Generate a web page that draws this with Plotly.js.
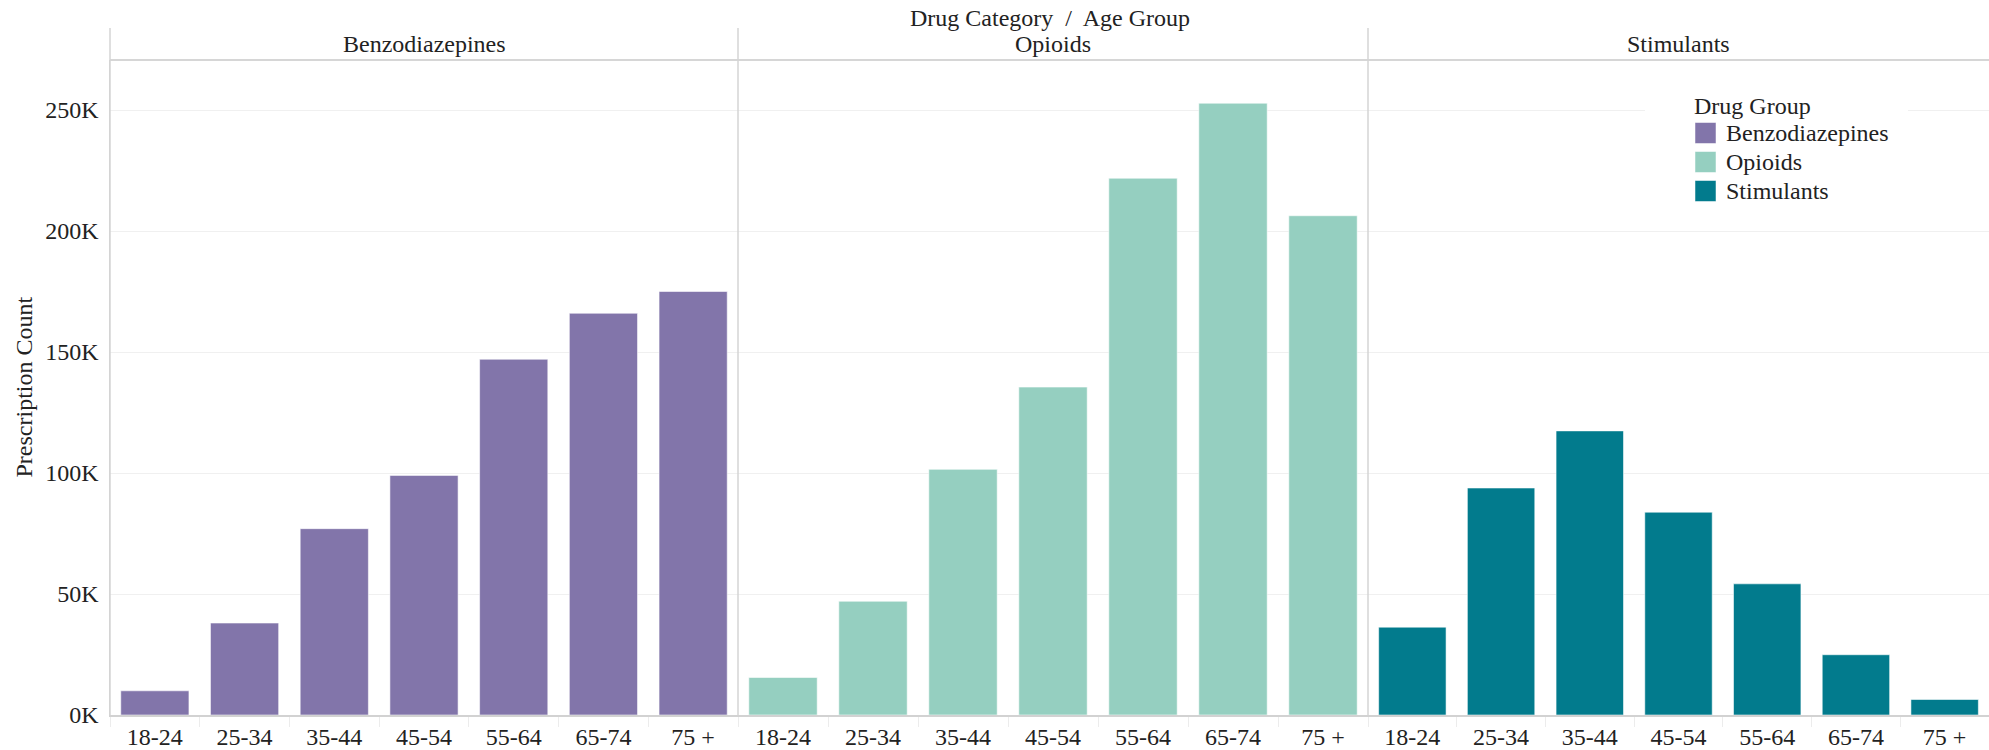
<!DOCTYPE html>
<html><head><meta charset="utf-8">
<script src="https://cdn.plot.ly/plotly-3.0.1.min.js"></script>
<style>html,body{margin:0;padding:0;background:#fff}</style>
</head><body>
<div id="chart" style="width:1989px;height:750px"></div>
<script>
const ageGroups = ['18-24', '25-34', '35-44', '45-54', '55-64', '65-74', '75 +'];
const drugGroups = ['Benzodiazepines', 'Opioids', 'Stimulants'];
const benzodiazepines = [10000, 38000, 77000, 99000, 147000, 166000, 175000];
const opioids = [15500, 47000, 101500, 135500, 221800, 252800, 206300];
const stimulants = [36300, 93800, 117400, 83800, 54200, 24900, 6400];
const drugColors = ['#8275AA', '#95CFC0', '#027B8D'];
const yTickVals = [0, 50000, 100000, 150000, 200000, 250000];
const yTickLabels = ['0K', '50K', '100K', '150K', '200K', '250K'];
const chartTitle = 'Drug Category \u00A0/\u00A0 Age Group';
const yTitle = 'Prescription Count';
const legendTitle = 'Drug Group';

const seriesValues = [benzodiazepines, opioids, stimulants];
const FONT = 'Liberation Serif, Times New Roman, serif';
const FS = 24;
const TXT = '#222';

const W = 1989, H = 750, L = 110, R = 0, T = 60, B = 35;
const pw = W - L - R, ph = H - T - B;
const px = v => (v - L) / pw;
const py = v => (H - B - v) / ph;
const bounds = [0, px(738), px(1368), 1];

const traces = drugGroups.map((g, i) => ({
  type: 'bar',
  name: g,
  x: ageGroups,
  y: seriesValues[i],
  xaxis: i === 0 ? 'x' : 'x' + (i + 1),
  yaxis: 'y',
  marker: {color: drugColors[i], line: {color: 'rgba(255,255,255,0.55)', width: 1}},
  showlegend: false,
  hoverinfo: 'x+y+name'
}));

function xax(i) {
  return {
    domain: [bounds[i], bounds[i + 1]],
    anchor: 'y',
    type: 'category',
    categoryorder: 'array',
    categoryarray: ageGroups,
    showgrid: false,
    zeroline: false,
    showline: true,
    linecolor: '#d2d2d2',
    linewidth: 1.5,
    ticks: 'outside',
    tickson: 'boundaries',
    ticklen: 10,
    tickcolor: '#ececec',
    tickfont: {family: FONT, size: FS, color: TXT},
    fixedrange: true
  };
}

const yTop = py(28);
const shapes = [
  {type: 'line', xref: 'paper', yref: 'paper', x0: 0, x1: 1, y0: 1, y1: 1,
   line: {color: '#c8c8c8', width: 1.5}, layer: 'above'}
];
[0, bounds[1], bounds[2]].forEach(bx => {
  shapes.push({type: 'line', xref: 'paper', yref: 'paper', x0: bx, x1: bx, y0: 0, y1: yTop,
    line: {color: '#d4d4d4', width: 1.5}, layer: 'above'});
});

// Legend (colour key) box, swatches and labels
shapes.push({type: 'rect', xref: 'paper', yref: 'paper', x0: px(1645), x1: px(1908), y0: py(231), y1: py(86),
  fillcolor: '#ffffff', line: {width: 0}, layer: 'above'});
const legRow0 = 133, legStep = 29, sw = 21, swLeft = 1695, txtLeft = 1724;

const annotations = drugGroups.map((g, i) => ({
  text: g, xref: 'paper', yref: 'paper',
  x: (bounds[i] + bounds[i + 1]) / 2, y: py(44),
  xanchor: 'center', yanchor: 'middle', showarrow: false,
  font: {family: FONT, size: FS, color: TXT}
}));
annotations.push({
  text: chartTitle, xref: 'paper', yref: 'paper', x: 0.5, y: py(18),
  xanchor: 'center', yanchor: 'middle', showarrow: false,
  font: {family: FONT, size: FS, color: TXT}
});
annotations.push({
  text: yTitle, xref: 'paper', yref: 'paper', x: px(23), y: 0.5,
  xanchor: 'center', yanchor: 'middle', textangle: -90, showarrow: false,
  font: {family: FONT, size: FS, color: TXT}
});
annotations.push({
  text: legendTitle, xref: 'paper', yref: 'paper', x: px(1692), y: py(106),
  xanchor: 'left', yanchor: 'middle', showarrow: false,
  font: {family: FONT, size: FS, color: TXT}
});
drugGroups.forEach((g, i) => {
  const cy = legRow0 + i * legStep;
  shapes.push({type: 'rect', xref: 'paper', yref: 'paper',
    x0: px(swLeft), x1: px(swLeft + sw), y0: py(cy + sw / 2), y1: py(cy - sw / 2),
    fillcolor: drugColors[i], line: {color: 'rgba(255,255,255,0.5)', width: 1}, layer: 'above'});
  annotations.push({
    text: g, xref: 'paper', yref: 'paper', x: px(txtLeft), y: py(cy),
    xanchor: 'left', yanchor: 'middle', showarrow: false,
    font: {family: FONT, size: FS, color: TXT}
  });
});

const layout = {
  width: W, height: H,
  margin: {l: L, r: R, t: T, b: B, pad: 0},
  paper_bgcolor: '#fff', plot_bgcolor: '#fff',
  font: {family: FONT, size: FS, color: TXT},
  bargap: 0.24,
  showlegend: false,
  xaxis: xax(0), xaxis2: xax(1), xaxis3: xax(2),
  yaxis: {
    range: [0, 250000 + 50000 * 50 / 121],
    tickvals: yTickVals, ticktext: yTickLabels,
    showgrid: true, gridcolor: '#f0f0f0', gridwidth: 1,
    zeroline: false, showline: true, linecolor: '#d4d4d4', linewidth: 1.5,
    ticks: 'outside', ticklen: 5, tickcolor: 'rgba(0,0,0,0)',
    tickfont: {family: FONT, size: FS, color: TXT},
    fixedrange: true
  },
  shapes: shapes,
  annotations: annotations
};

Plotly.newPlot('chart', traces, layout, {displayModeBar: false, staticPlot: true});
</script>
</body></html>
